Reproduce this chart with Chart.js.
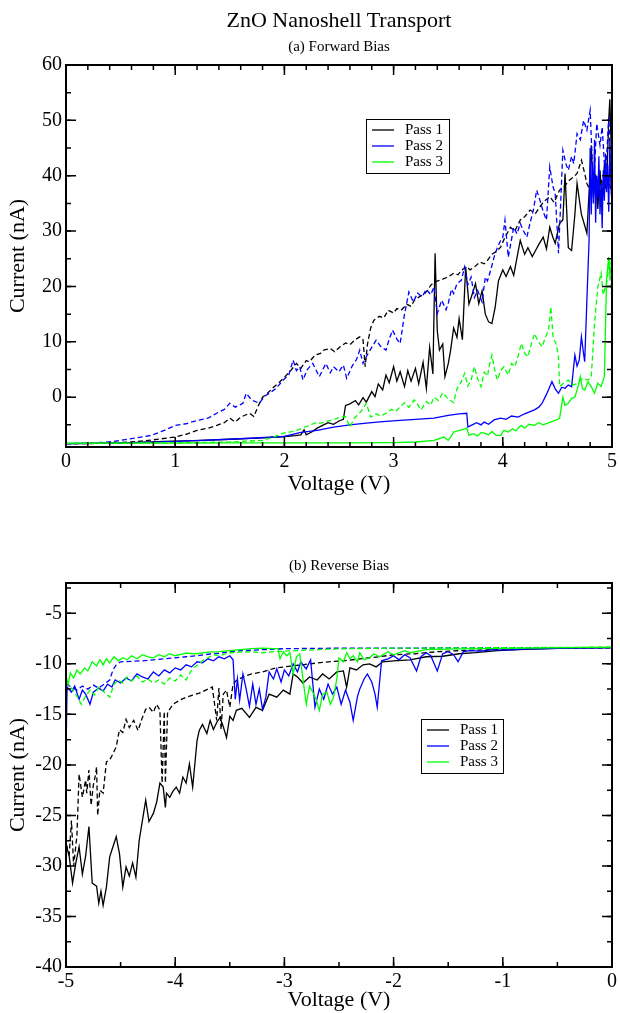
<!DOCTYPE html>
<html>
<head>
<meta charset="utf-8">
<script src="https://cdn.jsdelivr.net/npm/chart.js@4.4.1/dist/chart.umd.min.js"></script>
<style>
  body { margin: 0; background: #fff; width: 620px; height: 1013px; position: relative; overflow: hidden; }
  canvas { position: absolute; left: 0; }
  .lbl { position: absolute; left: 0; width: 678px; text-align: center; font-family: "Liberation Serif", "Times New Roman", serif; color: #000; z-index: 2; }
</style>
</head>
<body>
<canvas id="fwd" width="620" height="500" style="top:0"></canvas>
<canvas id="rev" width="620" height="513" style="top:500px"></canvas>
<div class="lbl" style="top:7px;font-size:22px;line-height:26px">ZnO Nanoshell Transport</div>
<div class="lbl" style="top:37px;font-size:15px;line-height:18px">(a) Forward Bias</div>
<div class="lbl" style="top:556px;font-size:15px;line-height:18px">(b) Reverse Bias</div>
<script>
// ---- tick labels ----
const fwdXTicks = [0, 1, 2, 3, 4, 5];
const fwdYTicks = [0, 10, 20, 30, 40, 50, 60];
const revXTicks = [-5, -4, -3, -2, -1, 0];
const revYTicks = [-40, -35, -30, -25, -20, -15, -10, -5];

const passNames = ['Pass 1', 'Pass 2', 'Pass 3'];

// ---- (a) forward bias, [voltage, current] ----
const fwdPass1Solid = [[0,-8.4],[0.3,-8.35],[0.6,-8.2],[0.9,-8.0],[1.2,-7.85],[1.5,-7.6],[1.8,-7.35],[2.0,-7.1],[2.1,-6.95],[2.15,-6.8],[2.18,-5.9],[2.2,-6.8],[2.25,-6.3],[2.3,-5.6],[2.35,-5.1],[2.4,-4.6],[2.45,-4.9],[2.5,-4.3],[2.54,-4.0],[2.56,-1.5],[2.6,-1.2],[2.65,-0.6],[2.68,-1.4],[2.72,-0.1],[2.75,-0.9],[2.8,1.0],[2.83,0.1],[2.86,2.4],[2.9,1.3],[2.93,4.0],[2.96,2.6],[3.0,5.5],[3.03,2.9],[3.06,4.6],[3.1,1.9],[3.13,4.8],[3.16,2.9],[3.2,5.2],[3.23,2.4],[3.27,6.3],[3.3,1.6],[3.33,9.0],[3.36,4.2],[3.38,26.0],[3.4,12.0],[3.42,8.5],[3.45,9.6],[3.47,3.7],[3.5,6.0],[3.52,8.2],[3.55,12.5],[3.58,10.8],[3.6,14.2],[3.63,10.4],[3.66,23.5],[3.69,16.8],[3.72,18.6],[3.75,20.5],[3.78,16.9],[3.81,19.2],[3.84,15.0],[3.87,13.6],[3.9,13.3],[3.93,16.2],[3.96,21.0],[4.0,23.0],[4.03,21.8],[4.07,23.6],[4.1,22.0],[4.13,25.2],[4.16,28.3],[4.2,25.8],[4.23,27.0],[4.27,25.4],[4.3,26.5],[4.33,27.6],[4.37,28.9],[4.4,26.8],[4.43,30.7],[4.46,28.8],[4.48,27.8],[4.52,31.4],[4.55,32.0],[4.57,40.4],[4.6,27.0],[4.63,26.5],[4.66,33.0],[4.68,38.6],[4.72,33.0],[4.75,31.0],[4.77,29.6],[4.79,37.0],[4.81,45.5],[4.83,36.0],[4.85,40.2],[4.87,34.0],[4.89,41.0],[4.91,35.5],[4.93,42.0],[4.95,38.0],[4.97,50.0],[4.98,53.8],[5.0,40.0]];
const fwdPass1Dashed = [[0,-8.4],[0.3,-8.35],[0.59,-8.1],[0.8,-7.7],[1.0,-7.2],[1.1,-6.7],[1.2,-6.0],[1.3,-5.6],[1.38,-5.1],[1.45,-4.6],[1.5,-3.8],[1.55,-4.5],[1.6,-3.6],[1.68,-2.9],[1.72,-3.5],[1.76,-1.6],[1.8,0.0],[1.85,0.8],[1.9,1.8],[1.95,2.6],[1.99,3.4],[2.05,4.6],[2.11,6.1],[2.15,5.2],[2.2,6.6],[2.23,6.4],[2.28,7.6],[2.33,7.9],[2.36,8.5],[2.42,8.8],[2.46,8.2],[2.51,9.1],[2.56,9.8],[2.6,9.5],[2.65,10.4],[2.69,10.9],[2.72,10.4],[2.74,5.5],[2.76,9.5],[2.79,12.5],[2.82,13.9],[2.87,14.6],[2.91,14.3],[2.95,15.7],[3.0,15.2],[3.03,16.0],[3.07,15.7],[3.12,16.8],[3.16,16.4],[3.19,17.5],[3.24,18.2],[3.28,18.6],[3.31,19.3],[3.34,20.2],[3.37,20.8],[3.42,21.1],[3.46,21.4],[3.5,21.7],[3.55,22.4],[3.59,22.1],[3.62,22.9],[3.67,23.6],[3.7,23.0],[3.74,23.5],[3.79,24.4],[3.83,24.1],[3.86,24.7],[3.9,25.8],[3.94,26.3],[3.98,27.1],[4.02,28.9],[4.07,30.7],[4.11,30.0],[4.16,32.0],[4.2,32.6],[4.25,33.8],[4.3,33.2],[4.34,34.4],[4.38,35.4],[4.43,36.2],[4.47,35.2],[4.52,37.4],[4.56,38.0],[4.61,39.2],[4.65,39.8],[4.68,40.4],[4.72,42.8],[4.75,40.4],[4.77,38.6],[4.81,36.8],[4.84,38.5],[4.87,36.0],[4.9,39.4],[4.93,37.0],[4.96,40.2],[5.0,36.5]];
const fwdPass2Solid = [[0,-8.4],[0.5,-8.3],[1.0,-8.0],[1.5,-7.6],[2.0,-7.1],[2.14,-6.4],[2.3,-6.0],[2.45,-5.4],[2.6,-5.0],[2.75,-4.7],[2.9,-4.4],[3.06,-4.2],[3.2,-4.0],[3.37,-3.8],[3.5,-3.3],[3.6,-3.0],[3.67,-2.9],[3.68,-5.4],[3.72,-5.0],[3.76,-4.6],[3.8,-5.0],[3.83,-4.5],[3.87,-4.9],[3.92,-4.1],[3.98,-3.8],[4.03,-4.0],[4.08,-3.4],[4.14,-3.6],[4.2,-3.0],[4.25,-2.6],[4.29,-2.3],[4.33,-1.8],[4.36,-1.1],[4.4,0.5],[4.45,2.8],[4.48,1.5],[4.51,0.7],[4.54,1.8],[4.57,1.6],[4.6,2.2],[4.63,1.9],[4.66,7.6],[4.68,5.6],[4.7,6.7],[4.72,10.9],[4.74,7.8],[4.75,6.4],[4.77,17.5],[4.79,28.3],[4.8,45.0],[4.81,33.0],[4.82,42.5],[4.83,35.0],[4.84,46.5],[4.85,31.5],[4.86,40.0],[4.87,36.0],[4.88,43.5],[4.89,33.0],[4.9,38.5],[4.91,30.5],[4.92,41.0],[4.93,35.5],[4.94,44.0],[4.95,37.0],[4.96,42.0],[4.97,33.5],[4.98,46.0],[4.99,38.0],[5.0,35.0]];
const fwdPass2Dashed = [[0,-8.4],[0.25,-8.3],[0.43,-8.0],[0.6,-7.5],[0.78,-6.9],[0.9,-6.0],[1.0,-5.1],[1.1,-4.8],[1.2,-4.2],[1.3,-3.8],[1.38,-2.9],[1.45,-2.2],[1.5,-1.1],[1.55,-1.8],[1.62,-1.1],[1.65,0.7],[1.7,-0.5],[1.77,-1.1],[1.82,0.2],[1.86,0.7],[1.92,1.5],[1.99,3.1],[2.04,4.0],[2.08,6.7],[2.11,4.8],[2.14,5.5],[2.17,3.1],[2.21,5.0],[2.26,6.1],[2.32,3.7],[2.38,6.1],[2.42,4.4],[2.45,5.5],[2.5,4.6],[2.54,5.8],[2.57,3.4],[2.62,5.6],[2.66,6.8],[2.69,8.5],[2.72,6.1],[2.75,7.3],[2.8,9.0],[2.84,10.3],[2.88,9.2],[2.93,8.5],[2.96,10.5],[2.99,12.1],[3.03,10.5],[3.06,9.7],[3.1,15.0],[3.14,19.0],[3.18,17.2],[3.22,18.8],[3.26,18.1],[3.3,19.5],[3.34,18.5],[3.37,19.9],[3.4,15.1],[3.44,17.5],[3.48,15.8],[3.5,16.9],[3.53,19.5],[3.55,18.7],[3.58,20.5],[3.62,21.1],[3.65,23.5],[3.68,20.3],[3.71,21.7],[3.74,18.0],[3.77,19.3],[3.81,17.2],[3.84,21.7],[3.86,21.0],[3.89,23.0],[3.92,25.3],[3.95,27.0],[3.98,28.3],[4.0,28.9],[4.02,32.0],[4.05,25.3],[4.08,28.5],[4.1,30.7],[4.13,29.5],[4.16,31.4],[4.19,30.0],[4.22,28.9],[4.25,31.5],[4.28,33.8],[4.31,37.4],[4.34,35.6],[4.37,33.5],[4.4,32.0],[4.43,41.6],[4.46,38.0],[4.48,36.8],[4.51,26.0],[4.53,35.0],[4.55,44.6],[4.58,42.0],[4.6,41.0],[4.63,43.5],[4.65,42.2],[4.68,47.6],[4.71,46.5],[4.74,50.0],[4.77,48.2],[4.8,51.8],[4.83,37.4],[4.86,49.4],[4.89,45.5],[4.91,48.8],[4.94,39.2],[4.97,50.6],[5.0,36.2]];
const fwdPass3Solid = [[0,-8.3],[0.5,-8.3],[1.0,-8.3],[1.5,-8.25],[2.0,-8.25],[2.5,-8.25],[3.0,-8.2],[3.2,-8.1],[3.37,-7.8],[3.43,-7.4],[3.46,-7.2],[3.5,-7.8],[3.53,-7.0],[3.55,-6.3],[3.6,-6.0],[3.64,-5.8],[3.67,-5.6],[3.69,-6.9],[3.73,-6.6],[3.77,-7.0],[3.8,-6.4],[3.83,-6.5],[3.87,-6.8],[3.9,-6.2],[3.94,-6.9],[3.98,-6.9],[4.01,-6.0],[4.05,-6.3],[4.09,-5.7],[4.12,-6.1],[4.14,-5.6],[4.17,-5.1],[4.2,-5.6],[4.24,-4.9],[4.29,-5.1],[4.33,-4.6],[4.37,-5.0],[4.41,-4.7],[4.45,-4.4],[4.48,-4.2],[4.52,-3.8],[4.55,0.0],[4.57,-1.5],[4.6,-1.1],[4.63,-0.2],[4.66,0.0],[4.69,2.0],[4.71,3.7],[4.73,1.5],[4.75,1.3],[4.78,2.8],[4.81,1.9],[4.84,0.7],[4.87,2.5],[4.9,1.9],[4.93,3.7],[4.95,21.1],[4.97,25.3],[4.98,22.0],[5.0,24.7]];
const fwdPass3Dashed = [[0,-8.35],[0.5,-8.3],[1.0,-8.25],[1.5,-8.1],[1.8,-7.8],[1.9,-7.2],[1.99,-6.5],[2.05,-6.3],[2.11,-6.0],[2.2,-5.3],[2.29,-4.6],[2.33,-4.7],[2.42,-4.2],[2.47,-3.9],[2.51,-3.6],[2.56,-3.5],[2.6,-5.4],[2.64,-3.8],[2.7,-2.6],[2.75,-1.1],[2.79,-3.6],[2.84,-3.0],[2.88,-3.4],[2.93,-2.9],[2.98,-2.2],[3.02,-2.6],[3.06,-1.75],[3.1,-1.0],[3.14,-1.8],[3.19,-0.5],[3.22,-1.3],[3.25,-2.3],[3.3,-0.8],[3.34,-1.4],[3.37,0.0],[3.41,-0.6],[3.45,0.8],[3.5,-0.3],[3.55,-1.0],[3.58,1.5],[3.62,2.8],[3.65,4.3],[3.68,2.0],[3.71,3.1],[3.74,5.5],[3.77,3.3],[3.8,1.9],[3.83,4.5],[3.86,3.8],[3.88,6.0],[3.9,7.6],[3.93,4.5],[3.95,3.1],[3.98,4.8],[4.01,5.5],[4.05,4.0],[4.08,6.1],[4.11,5.5],[4.14,7.4],[4.17,9.7],[4.2,8.0],[4.23,7.3],[4.26,9.5],[4.29,11.5],[4.32,10.2],[4.36,9.1],[4.39,10.8],[4.42,12.2],[4.44,16.3],[4.46,11.0],[4.49,9.5],[4.51,7.3],[4.52,1.9],[4.56,2.6],[4.6,3.1],[4.64,2.2],[4.69,2.5],[4.73,3.4],[4.78,3.1],[4.81,3.6],[4.84,13.3],[4.87,19.9],[4.9,22.4],[4.92,18.5],[4.95,20.6],[4.98,24.7],[5.0,16.9]];

// ---- (b) reverse bias, [voltage, current] ----
const revPass1Solid = [[-5,-27.8],[-4.97,-29.1],[-4.94,-31.7],[-4.91,-29.7],[-4.88,-28.1],[-4.85,-30.8],[-4.82,-29.0],[-4.79,-26.1],[-4.76,-31.7],[-4.72,-32.0],[-4.7,-33.7],[-4.68,-32.5],[-4.66,-33.9],[-4.63,-32.1],[-4.6,-29.1],[-4.57,-28.1],[-4.54,-27.1],[-4.51,-28.8],[-4.48,-32.1],[-4.45,-30.1],[-4.42,-31.0],[-4.39,-29.7],[-4.36,-31.1],[-4.33,-27.5],[-4.3,-25.5],[-4.27,-23.5],[-4.24,-25.6],[-4.2,-24.8],[-4.17,-23.7],[-4.14,-21.8],[-4.11,-22.2],[-4.09,-24.2],[-4.08,-22.8],[-4.05,-23.2],[-4.02,-22.6],[-3.99,-22.2],[-3.96,-22.8],[-3.93,-21.2],[-3.9,-21.8],[-3.87,-19.9],[-3.84,-22.2],[-3.8,-17.6],[-3.78,-16.6],[-3.75,-16.0],[-3.71,-16.9],[-3.68,-15.6],[-3.65,-16.5],[-3.62,-15.8],[-3.59,-15.3],[-3.56,-16.2],[-3.53,-17.3],[-3.5,-15.2],[-3.47,-15.6],[-3.44,-14.6],[-3.39,-14.4],[-3.32,-15.3],[-3.26,-14.3],[-3.2,-14.6],[-3.14,-13.0],[-3.07,-13.3],[-3.01,-12.6],[-2.95,-13.0],[-2.92,-11.0],[-2.88,-11.3],[-2.83,-11.9],[-2.77,-11.3],[-2.7,-11.6],[-2.65,-11.0],[-2.59,-11.5],[-2.52,-10.8],[-2.46,-10.7],[-2.43,-12.3],[-2.4,-10.4],[-2.34,-10.6],[-2.28,-10.1],[-2.22,-10.0],[-2.16,-10.3],[-2.1,-9.8],[-2.0,-9.7],[-1.85,-9.6],[-1.7,-9.3],[-1.55,-9.25],[-1.4,-9.0],[-1.25,-8.9],[-1.05,-8.7],[-0.75,-8.55],[-0.4,-8.45],[0,-8.4]];
const revPass1Dashed = [[-5,-27.8],[-4.97,-28.8],[-4.95,-25.5],[-4.93,-30.0],[-4.9,-27.0],[-4.88,-20.9],[-4.85,-23.2],[-4.82,-21.5],[-4.81,-22.8],[-4.79,-20.5],[-4.77,-24.0],[-4.75,-22.0],[-4.73,-21.0],[-4.72,-20.2],[-4.71,-25.0],[-4.69,-22.5],[-4.66,-22.8],[-4.63,-19.7],[-4.6,-19.5],[-4.57,-18.9],[-4.54,-18.2],[-4.51,-16.5],[-4.48,-16.8],[-4.45,-15.5],[-4.42,-16.3],[-4.38,-15.6],[-4.34,-16.6],[-4.3,-15.3],[-4.27,-14.5],[-4.24,-14.3],[-4.2,-14.8],[-4.17,-14.0],[-4.14,-14.6],[-4.12,-21.8],[-4.1,-14.7],[-4.09,-21.8],[-4.07,-14.8],[-4.02,-14.0],[-3.96,-13.6],[-3.9,-13.3],[-3.84,-13.1],[-3.78,-12.9],[-3.72,-12.6],[-3.66,-12.3],[-3.62,-15.6],[-3.6,-12.4],[-3.58,-16.5],[-3.56,-13.0],[-3.53,-12.6],[-3.5,-14.3],[-3.47,-12.0],[-3.44,-11.65],[-3.38,-11.3],[-3.3,-11.0],[-3.2,-10.8],[-3.08,-10.4],[-2.92,-10.2],[-2.77,-10.0],[-2.6,-9.8],[-2.46,-9.7],[-2.3,-9.5],[-2.13,-9.3],[-2.0,-9.1],[-1.8,-9.0],[-1.6,-8.8],[-1.4,-8.7],[-1.0,-8.55],[-0.5,-8.45],[0,-8.4]];
const revPass2Solid = [[-5,-18.6],[-4.99,-12.3],[-4.95,-12.8],[-4.92,-12.2],[-4.88,-13.5],[-4.85,-12.6],[-4.82,-13.0],[-4.78,-14.0],[-4.75,-12.8],[-4.7,-12.4],[-4.66,-12.7],[-4.62,-12.0],[-4.58,-12.3],[-4.55,-11.6],[-4.5,-11.9],[-4.45,-11.4],[-4.4,-11.7],[-4.35,-11.0],[-4.3,-11.3],[-4.25,-11.5],[-4.2,-10.8],[-4.15,-11.2],[-4.1,-10.6],[-4.05,-10.9],[-4.0,-10.4],[-3.95,-10.6],[-3.9,-10.1],[-3.85,-10.3],[-3.8,-9.8],[-3.75,-9.9],[-3.7,-9.5],[-3.65,-9.7],[-3.6,-9.3],[-3.55,-9.5],[-3.5,-9.2],[-3.47,-9.6],[-3.45,-13.5],[-3.43,-11.5],[-3.41,-13.6],[-3.38,-11.0],[-3.35,-12.5],[-3.32,-14.2],[-3.29,-12.0],[-3.26,-14.0],[-3.23,-12.5],[-3.2,-14.5],[-3.17,-13.3],[-3.14,-10.8],[-3.1,-11.5],[-3.07,-10.5],[-3.03,-11.8],[-3.0,-10.6],[-2.96,-11.2],[-2.92,-10.0],[-2.88,-10.8],[-2.85,-9.8],[-2.8,-10.5],[-2.76,-9.6],[-2.72,-14.3],[-2.68,-12.5],[-2.64,-13.5],[-2.6,-12.0],[-2.56,-13.0],[-2.52,-12.3],[-2.48,-14.0],[-2.44,-12.6],[-2.4,-13.8],[-2.37,-15.6],[-2.33,-13.2],[-2.31,-12.5],[-2.27,-11.5],[-2.24,-11.0],[-2.2,-11.8],[-2.17,-13.0],[-2.15,-14.3],[-2.13,-12.0],[-2.11,-9.7],[-2.05,-9.5],[-2.0,-9.2],[-1.95,-9.6],[-1.9,-9.1],[-1.85,-9.4],[-1.79,-10.7],[-1.75,-9.3],[-1.7,-8.9],[-1.66,-9.2],[-1.6,-10.7],[-1.55,-9.0],[-1.5,-8.8],[-1.45,-9.1],[-1.41,-9.8],[-1.36,-8.8],[-1.3,-8.7],[-1.2,-8.75],[-1.1,-8.6],[-1.0,-8.65],[-0.8,-8.55],[-0.6,-8.5],[-0.4,-8.45],[-0.2,-8.42],[0,-8.4]];
const revPass2Dashed = [[-5,-12.0],[-4.95,-12.3],[-4.9,-12.6],[-4.85,-12.2],[-4.8,-12.5],[-4.75,-12.1],[-4.7,-12.4],[-4.65,-12.0],[-4.6,-11.6],[-4.57,-10.6],[-4.54,-10.1],[-4.5,-9.8],[-4.4,-9.75],[-4.3,-9.7],[-4.2,-9.6],[-4.1,-9.5],[-4.0,-9.4],[-3.9,-9.3],[-3.8,-9.2],[-3.7,-9.05],[-3.6,-8.95],[-3.5,-8.8],[-3.4,-8.7],[-3.2,-8.6],[-3.0,-8.5],[-2.5,-8.45],[-2.0,-8.45],[-1.0,-8.4],[0,-8.4]];
const revPass3Solid = [[-5,-11.2],[-4.98,-12.0],[-4.96,-10.9],[-4.93,-11.4],[-4.9,-10.6],[-4.87,-11.0],[-4.83,-10.4],[-4.8,-10.7],[-4.76,-9.8],[-4.72,-10.2],[-4.69,-9.6],[-4.66,-10.1],[-4.63,-9.5],[-4.6,-9.9],[-4.56,-9.3],[-4.52,-9.7],[-4.48,-9.4],[-4.44,-9.6],[-4.4,-9.2],[-4.35,-9.5],[-4.3,-9.1],[-4.25,-9.3],[-4.2,-9.4],[-4.15,-9.1],[-4.1,-9.3],[-4.05,-9.0],[-4.0,-9.2],[-3.9,-8.95],[-3.8,-9.0],[-3.7,-8.85],[-3.6,-8.8],[-3.5,-8.7],[-3.4,-8.6],[-3.3,-8.5],[-3.2,-8.45],[-3.1,-8.5],[-3.06,-8.5],[-3.04,-9.5],[-3.01,-8.8],[-2.98,-9.2],[-2.95,-8.9],[-2.92,-11.0],[-2.89,-9.3],[-2.86,-9.0],[-2.83,-11.5],[-2.8,-14.0],[-2.77,-12.2],[-2.74,-12.8],[-2.71,-13.5],[-2.68,-14.6],[-2.65,-13.0],[-2.61,-12.8],[-2.58,-14.0],[-2.55,-13.3],[-2.52,-11.5],[-2.5,-9.4],[-2.46,-9.8],[-2.43,-8.9],[-2.4,-9.5],[-2.37,-9.2],[-2.33,-9.8],[-2.31,-8.9],[-2.27,-9.6],[-2.22,-9.4],[-2.18,-9.0],[-2.13,-9.3],[-2.05,-8.8],[-2.0,-9.1],[-1.9,-8.7],[-1.85,-8.9],[-1.7,-8.6],[-1.5,-8.55],[-1.2,-8.5],[-0.8,-8.45],[-0.4,-8.4],[0,-8.35]];
const revPass3Dashed = [[-5,-11.7],[-4.95,-12.4],[-4.9,-13.2],[-4.86,-14.0],[-4.82,-13.2],[-4.78,-12.6],[-4.74,-13.1],[-4.7,-12.3],[-4.65,-12.8],[-4.6,-13.3],[-4.56,-12.0],[-4.52,-11.6],[-4.48,-11.9],[-4.44,-11.3],[-4.4,-11.7],[-4.35,-11.2],[-4.3,-11.8],[-4.25,-11.5],[-4.2,-11.9],[-4.15,-11.6],[-4.1,-12.0],[-4.05,-11.4],[-4.0,-11.7],[-3.95,-11.1],[-3.9,-11.6],[-3.86,-10.8],[-3.82,-10.3],[-3.78,-10.0],[-3.74,-9.6],[-3.7,-9.4],[-3.65,-9.1],[-3.6,-9.2],[-3.5,-8.9],[-3.4,-8.85],[-3.3,-8.8],[-3.2,-8.9],[-3.1,-8.8],[-3.0,-8.75],[-2.9,-8.7],[-2.8,-8.65],[-2.6,-8.55],[-2.4,-8.5],[-2.0,-8.45],[-1.0,-8.4],[0,-8.35]];

const SERIF = '"Liberation Serif", "Times New Roman", serif';
const colors = ['#000000', '#0000ff', '#00ff00'];

// inward ticks on all four sides + full frame, like the original plot
const frameTicks = {
  id: 'frameTicks',
  afterDatasetsDraw(chart, args, o) {
    const { ctx, chartArea: a, scales: { x, y } } = chart;
    ctx.save();
    ctx.strokeStyle = '#000';
    ctx.lineWidth = 1.5;
    const each = (scale, step, fn) => {
      for (let k = Math.ceil(scale.min / step - 1e-9); k * step <= scale.max + 1e-9; k++) fn(scale.getPixelForValue(k * step));
    };
    const xMarks = (step, len) => each(x, step, px => {
      ctx.beginPath();
      ctx.moveTo(px, a.bottom); ctx.lineTo(px, a.bottom - len);
      ctx.moveTo(px, a.top); ctx.lineTo(px, a.top + len);
      ctx.stroke();
    });
    const yMarks = (step, len) => each(y, step, py => {
      ctx.beginPath();
      ctx.moveTo(a.left, py); ctx.lineTo(a.left + len, py);
      ctx.moveTo(a.right, py); ctx.lineTo(a.right - len, py);
      ctx.stroke();
    });
    xMarks(o.xMinor, 5); xMarks(o.xMajor, 10);
    yMarks(o.yMinor, 5); yMarks(o.yMajor, 10);
    ctx.lineWidth = 2;
    ctx.strokeRect(a.left, a.top, a.right - a.left, a.bottom - a.top);
    ctx.restore();
  }
};

// boxed legend placed inside the plot
const boxLegend = {
  id: 'boxLegend',
  afterDraw(chart, args, o) {
    const { ctx } = chart;
    const items = chart.data.datasets.filter(d => d.inLegend)
      .sort((p, q) => p.label.localeCompare(q.label));
    ctx.save();
    ctx.fillStyle = '#fff';
    ctx.fillRect(o.x, o.y, o.w, o.h);
    ctx.strokeStyle = '#000';
    ctx.lineWidth = 1;
    ctx.strokeRect(o.x + 0.5, o.y + 0.5, o.w, o.h);
    ctx.font = '15px ' + SERIF;
    ctx.textBaseline = 'middle';
    items.forEach((d, i) => {
      const cy = o.y + 11 + i * 16;
      ctx.strokeStyle = d.borderColor;
      ctx.lineWidth = 1.3;
      ctx.beginPath();
      ctx.moveTo(o.x + 6, cy); ctx.lineTo(o.x + 28, cy);
      ctx.stroke();
      ctx.fillStyle = '#000';
      ctx.fillText(d.label, o.x + 39, cy);
    });
    ctx.restore();
  }
};

function series(pairs, idx, dashed) {
  return {
    label: passNames[idx],
    inLegend: !dashed,
    data: pairs.map(p => ({ x: p[0], y: p[1] })),
    borderColor: colors[idx],
    borderWidth: 1.3,
    borderDash: dashed ? [5, 3] : [],
    showLine: true,
    pointRadius: 0,
    tension: 0,
  };
}

function makePanel(canvas, cfg) {
  const tickFont = { family: SERIF, size: 20 };
  const titleFont = { family: SERIF, size: 22 };
  return new Chart(canvas, {
    type: 'scatter',
    data: { datasets: cfg.datasets },
    plugins: [frameTicks, boxLegend],
    options: {
      responsive: false,
      animation: false,
      events: [],
      layout: { padding: { top: cfg.top, right: 8, bottom: 0, left: 0 } },
      plugins: {
        legend: { display: false },
        tooltip: { enabled: false },
        frameTicks: cfg.marks,
        boxLegend: cfg.legend,
      },
      scales: {
        x: {
          type: 'linear',
          min: cfg.xMin, max: cfg.xMax,
          afterBuildTicks: s => { s.ticks = cfg.xTicks.map(v => ({ value: v })); },
          afterFit: s => { s.height = cfg.xAxisHeight; },
          grid: { display: false, drawTicks: false },
          border: { display: false },
          ticks: { color: '#000', font: tickFont, padding: 3, maxRotation: 0, autoSkip: false, callback: v => String(v) },
          title: { display: true, text: 'Voltage (V)', color: '#000', font: titleFont, padding: { top: 0, bottom: cfg.xTitlePad } },
        },
        y: {
          type: 'linear',
          min: cfg.yMin, max: cfg.yMax,
          afterBuildTicks: s => { s.ticks = cfg.yTicks.map(v => ({ value: v })); },
          afterFit: s => { s.width = 66; },
          grid: { display: false, drawTicks: false },
          border: { display: false },
          ticks: { color: '#000', font: tickFont, padding: 4, autoSkip: false, callback: v => String(v) },
          title: { display: true, text: 'Current (nA)', color: '#000', font: titleFont, padding: { top: 5, bottom: 0 } },
        },
      },
    },
  });
}

makePanel(document.getElementById('fwd'), {
  top: 65, xAxisHeight: 53, xTitlePad: 3,
  xMin: 0, xMax: 5, yMin: -9, yMax: 60,
  xTicks: fwdXTicks, yTicks: fwdYTicks,
  marks: { xMajor: 1, xMinor: 0.2, yMajor: 10, yMinor: 5 },
  legend: { x: 366, y: 119, w: 83, h: 54 },
  datasets: [
    series(fwdPass3Solid, 2, false), series(fwdPass3Dashed, 2, true),
    series(fwdPass2Solid, 1, false), series(fwdPass2Dashed, 1, true),
    series(fwdPass1Solid, 0, false), series(fwdPass1Dashed, 0, true),
  ],
});

makePanel(document.getElementById('rev'), {
  top: 83, xAxisHeight: 46, xTitlePad: 0,
  xMin: -5, xMax: 0, yMin: -40, yMax: -2,
  xTicks: revXTicks, yTicks: revYTicks,
  marks: { xMajor: 1, xMinor: 0.5, yMajor: 5, yMinor: 2.5 },
  legend: { x: 421, y: 219, w: 82, h: 54 },
  datasets: [
    series(revPass3Solid, 2, false), series(revPass3Dashed, 2, true),
    series(revPass2Solid, 1, false), series(revPass2Dashed, 1, true),
    series(revPass1Solid, 0, false), series(revPass1Dashed, 0, true),
  ],
});
</script>
</body>
</html>
